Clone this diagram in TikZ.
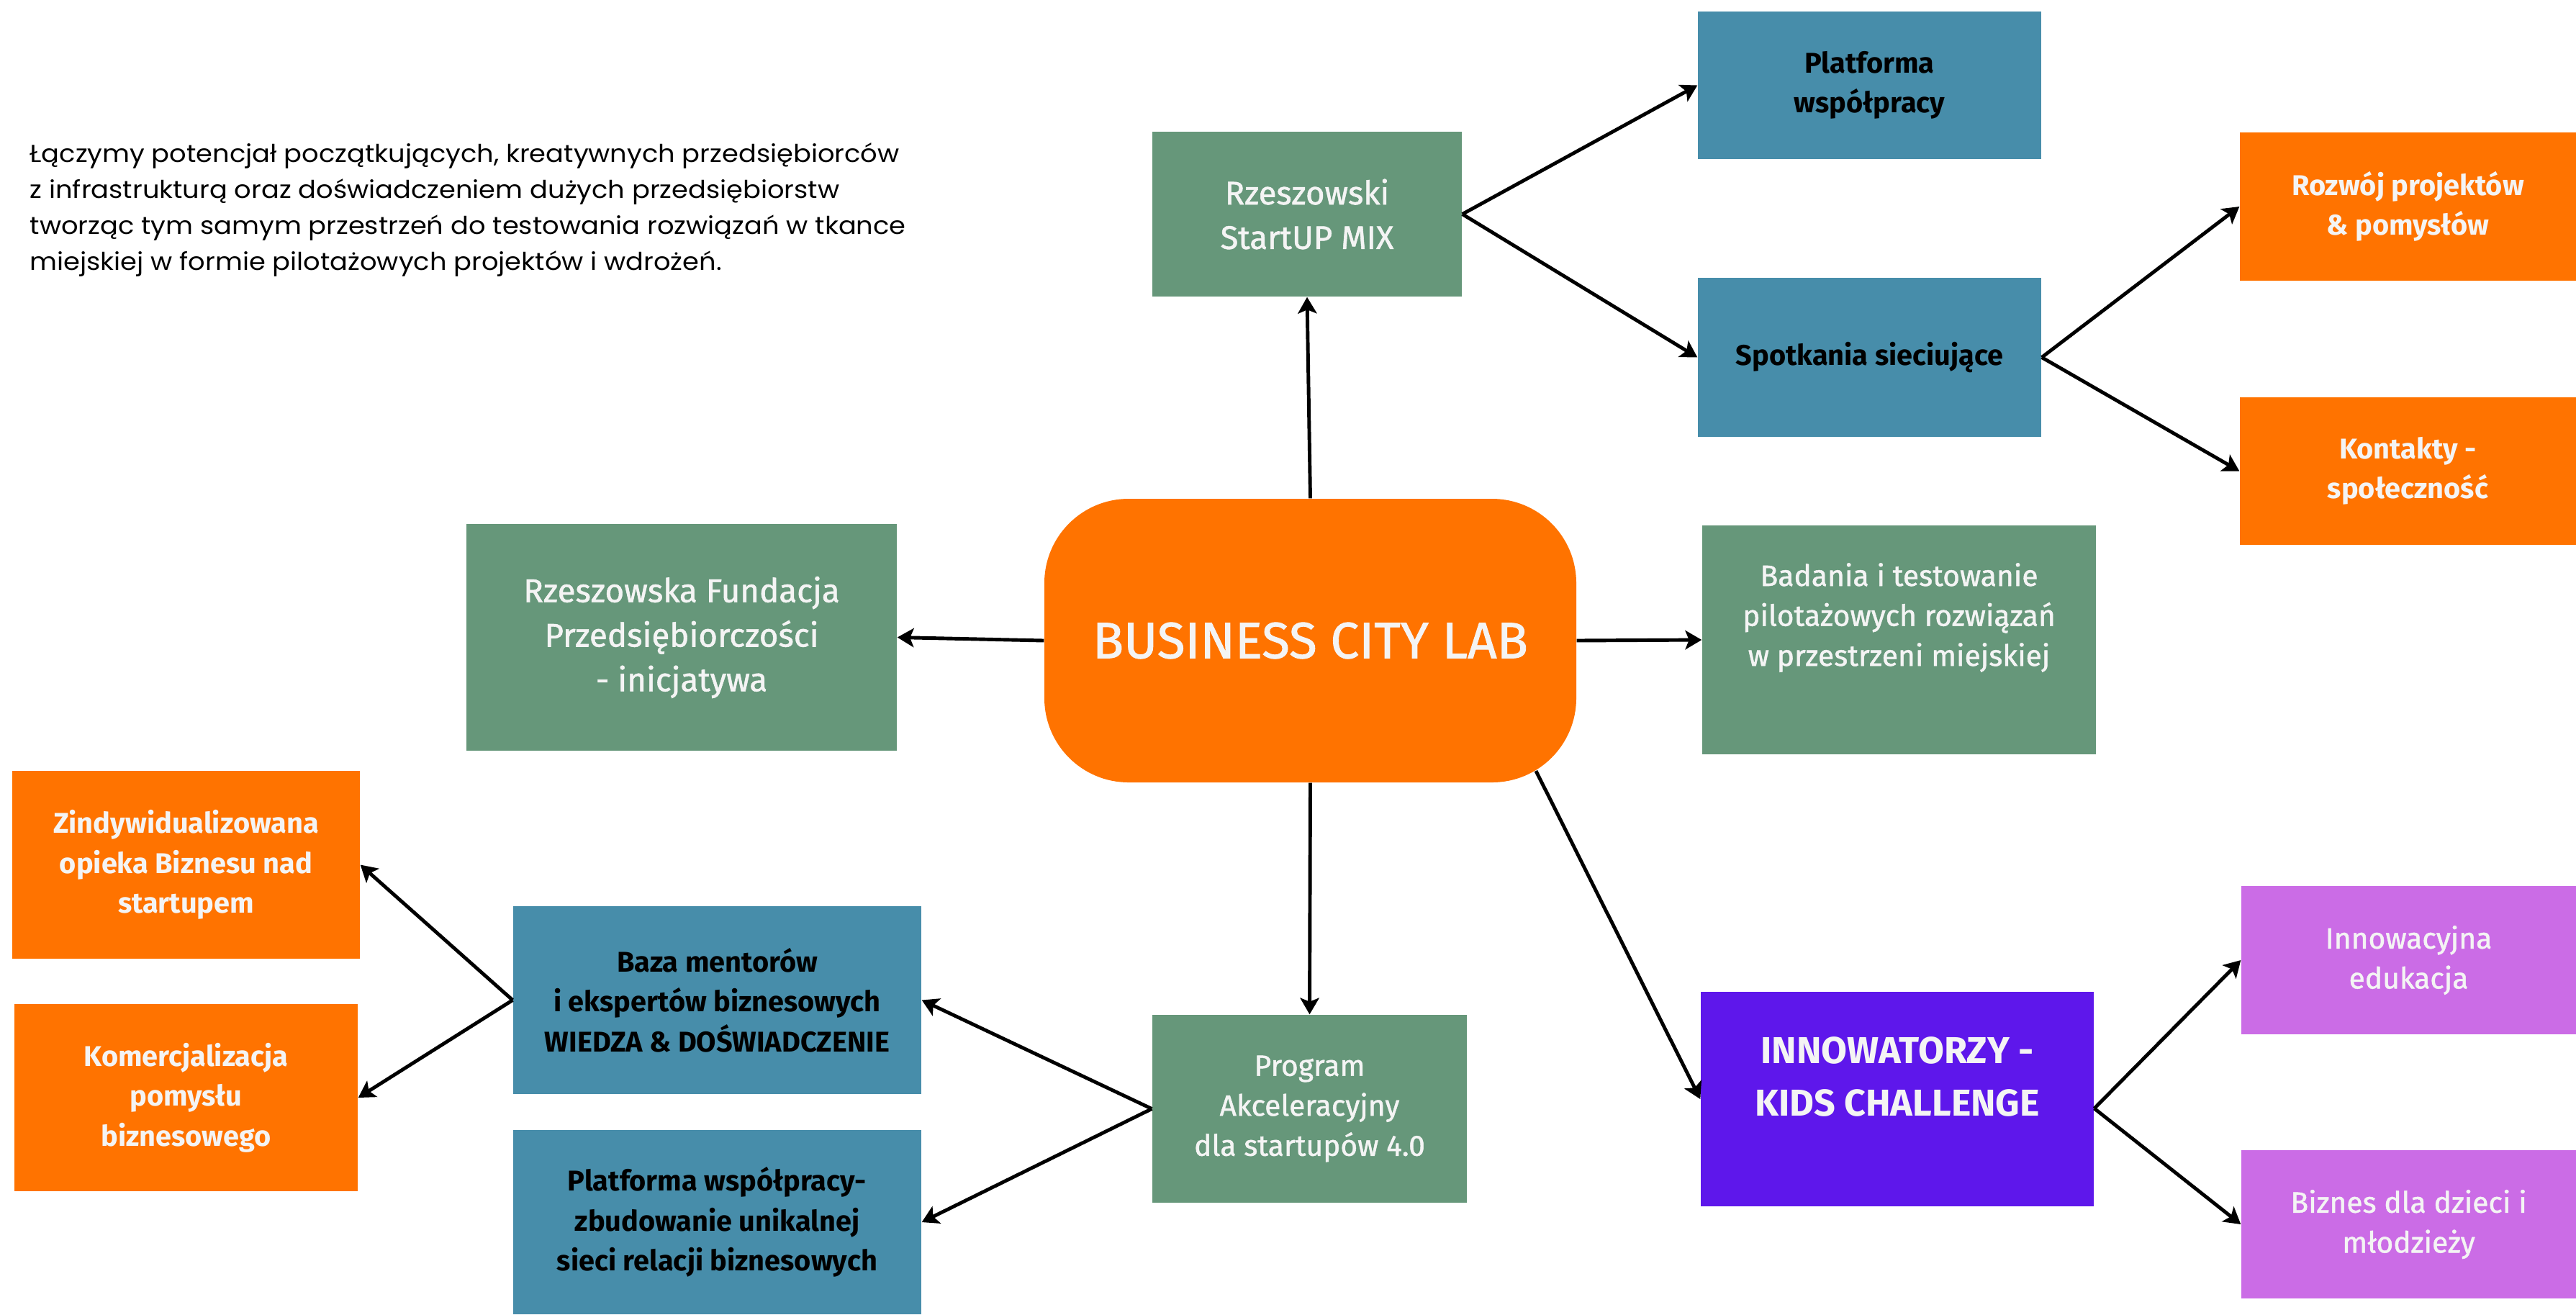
\documentclass[tikz,border=0pt]{standalone}
\usepackage{fontspec}
\usetikzlibrary{arrows.meta,calc}
\newfontfamily\cardfont[FakeBold=1.2]{Fira Sans}
\newfontfamily\cardbold{Fira Sans Bold}
\newfontfamily\introfont[FakeStretch=1.08]{Poppins}
\definecolor{sage}{HTML}{66977A}
\definecolor{steel}{HTML}{478DAA}
\definecolor{tangerine}{HTML}{FF7300}
\definecolor{violet}{HTML}{5E17EB}
\definecolor{lilac}{HTML}{CB6CE6}
\definecolor{paper}{HTML}{F4F4F4}
\tikzset{
  dims/.style 2 args={minimum width=#1cm, minimum height=#2cm},
  card/.style={rectangle, inner sep=0pt, align=center, text=paper,
    font=\cardfont\fontsize{11.6pt}{15.8pt}\selectfont},
  sagecard/.style={card, fill=sage},
  steelcard/.style={card, fill=steel, text=black,
    font=\cardbold\fontsize{11.3pt}{15.8pt}\selectfont},
  tangerinecard/.style={card, fill=tangerine,
    font=\cardbold\fontsize{11.3pt}{15.8pt}\selectfont},
  lilaccard/.style={card, fill=lilac},
  violetcard/.style={card, fill=violet},
  captext/.style={align=center, text=paper, inner sep=0pt},
  hub/.style={rectangle, rounded corners=1.17cm, fill=tangerine, text=paper,
    minimum width=7.39cm, minimum height=3.94cm,
    font=\cardfont\fontsize{20.2pt}{24pt}\selectfont},
  link/.style={line width=1.4pt, -{Stealth[length=6.5pt,width=7.5pt,inset=1.5pt]}}
}
\begin{document}
\begin{tikzpicture}
  \useasboundingbox (0,0) rectangle (35.79,-18.26);

  \node[anchor=north west, inner sep=0pt, align=left,
    font=\introfont\fontsize{9.7pt}{14.2pt}\selectfont] (intro) at (0.41,-1.98)
    {Łączymy potencjał początkujących, kreatywnych przedsiębiorców\\
     z infrastrukturą oraz doświadczeniem dużych przedsiębiorstw\\
     tworząc tym samym przestrzeń do testowania rozwiązań w tkance\\
     miejskiej w formie pilotażowych projektów i wdrożeń.};

  % center
  \node[hub] (bcl) at (18.205,-8.90) {BUSINESS CITY LAB};

  % upper branch
  \node[sagecard, dims={4.30}{2.29}, font=\cardfont\fontsize{12.9pt}{17.6pt}\selectfont]
    (mix) at (18.16,-2.975) {Rzeszowski\\StartUP MIX};
  \node[steelcard, dims={4.77}{2.05}] (platf) at (25.975,-1.185) {Platforma\\współpracy};
  \node[steelcard, dims={4.77}{2.21}] (spot) at (25.975,-4.965) {Spotkania sieciujące};
  \node[tangerinecard, dims={4.67}{2.06}] (rozw) at (33.455,-2.87) {Rozwój projektów\\\& pomysłów};
  \node[tangerinecard, dims={4.67}{2.05}] (kont) at (33.455,-6.545) {Kontakty -\\społeczność};

  % sides
  \node[sagecard, dims={5.98}{3.15}, font=\cardfont\fontsize{13pt}{17.6pt}\selectfont]
    (fund) at (9.47,-8.855) {Rzeszowska Fundacja\\Przedsiębiorczości\\- inicjatywa};
  \node[sagecard, dims={5.47}{3.18},
    label={[captext, yshift=0.31cm, font=\cardfont\fontsize{11.6pt}{15.8pt}\selectfont]center:{Badania i testowanie\\pilotażowych rozwiązań\\w przestrzeni miejskiej}}]
    (bad) at (26.385,-8.89) {};

  % lower branch
  \node[sagecard, dims={4.37}{2.61}] (prog) at (18.195,-15.405) {Program\\Akceleracyjny\\dla startupów 4.0};
  \node[steelcard, dims={5.67}{2.61}] (baza) at (9.965,-13.895)
    {Baza mentorów\\i ekspertów biznesowych\\WIEDZA \& DOŚWIADCZENIE};
  \node[steelcard, dims={5.67}{2.56}] (plat2) at (9.965,-16.98)
    {Platforma współpracy-\\zbudowanie unikalnej\\sieci relacji biznesowych};
  \node[tangerinecard, dims={4.83}{2.61}] (zind) at (2.585,-12.015)
    {Zindywidualizowana\\opieka Biznesu nad\\startupem};
  \node[tangerinecard, dims={4.77}{2.60}] (kom) at (2.585,-15.25)
    {Komercjalizacja\\pomysłu\\biznesowego};

  \node[violetcard, dims={5.46}{2.98},
    label={[captext, yshift=0.31cm, font=\cardbold\fontsize{14.8pt}{21pt}\selectfont]center:{INNOWATORZY -\\KIDS CHALLENGE}}]
    (inno) at (26.36,-15.27) {};
  \node[lilaccard, dims={4.65}{2.06}] (edu) at (33.465,-13.34) {Innowacyjna\\edukacja};
  \node[lilaccard, dims={4.65}{2.06}] (bizn) at (33.465,-17.01) {Biznes dla dzieci i\\młodzieży};

  \coordinate (bclcorner) at ($(bcl.south east)+(-1.17,1.17)+(-59:1.17)$);
  \coordinate (innofork) at ([yshift=-0.13cm]inno.east);

  \draw[link] (bcl.north) -- (mix.south);
  \draw[link] (bcl.west) -- (fund.east);
  \draw[link] (bcl.east) -- (bad.west);
  \draw[link] (bcl.south) -- (prog.north);
  \draw[link] (bclcorner) -- (inno.west);
  \draw[link] (mix.east) -- (platf.west);
  \draw[link] (mix.east) -- (spot.west);
  \draw[link] (spot.east) -- (rozw.west);
  \draw[link] (spot.east) -- (kont.west);
  \draw[link] (prog.west) -- (baza.east);
  \draw[link] (prog.west) -- (plat2.east);
  \draw[link] (baza.west) -- (zind.east);
  \draw[link] (baza.west) -- (kom.east);
  \draw[link] (innofork) -- (edu.west);
  \draw[link] (innofork) -- (bizn.west);
\end{tikzpicture}
\end{document}
